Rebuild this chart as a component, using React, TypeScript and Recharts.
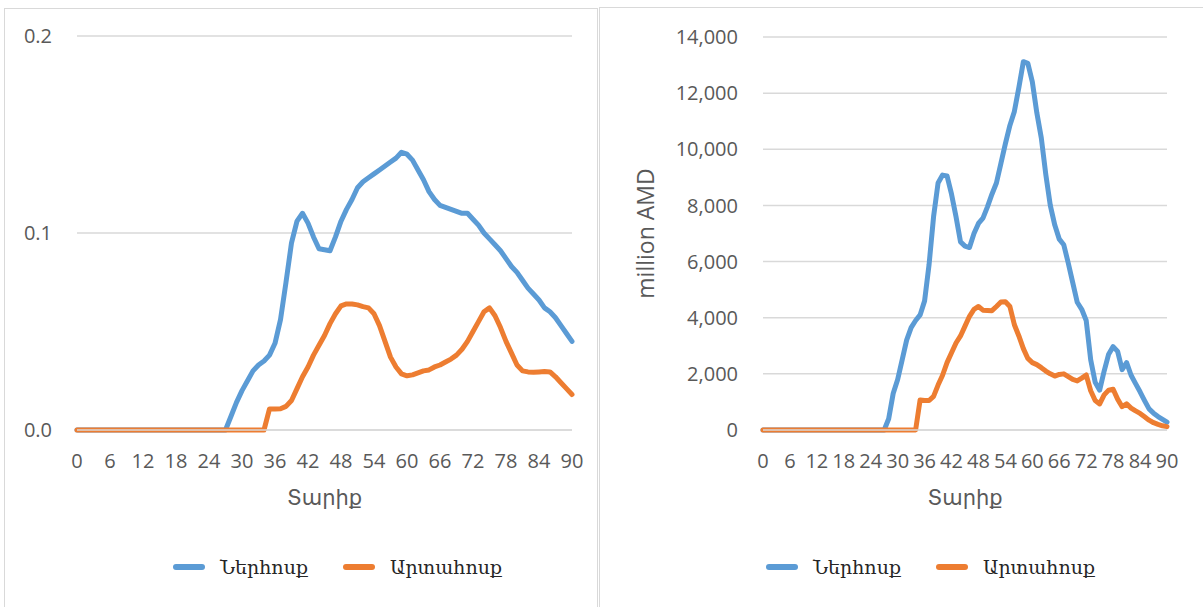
import { LineChart, Line, XAxis, YAxis, CartesianGrid, Legend } from "recharts";

// ages: 0, then every year from 27 to 90 (everything before 27 is zero)
const ages = [
  0,
  27, 28, 29,
  30, 31, 32, 33, 34, 35, 36, 37, 38, 39,
  40, 41, 42, 43, 44, 45, 46, 47, 48, 49,
  50, 51, 52, 53, 54, 55, 56, 57, 58, 59,
  60, 61, 62, 63, 64, 65, 66, 67, 68, 69,
  70, 71, 72, 73, 74, 75, 76, 77, 78, 79,
  80, 81, 82, 83, 84, 85, 86, 87, 88, 89,
  90,
];

// left panel: share
const shareInflow = [
  0,
  0, 0.007, 0.014,
  0.02, 0.025, 0.03, 0.033, 0.035, 0.038, 0.044, 0.056, 0.075, 0.095,
  0.106, 0.11, 0.105, 0.098, 0.092, 0.0915, 0.091, 0.098, 0.106, 0.112,
  0.117, 0.123, 0.126, 0.128, 0.13, 0.132, 0.134, 0.136, 0.138, 0.141,
  0.14, 0.137, 0.132, 0.127, 0.121, 0.117, 0.114, 0.113, 0.112, 0.111,
  0.11, 0.11, 0.107, 0.104, 0.1, 0.097, 0.094, 0.091, 0.087, 0.083,
  0.08, 0.076, 0.072, 0.069, 0.066, 0.062, 0.06, 0.057, 0.053, 0.049,
  0.045,
];
const shareOutflow = [
  0,
  0, 0, 0,
  0, 0, 0, 0, 0, 0.0107, 0.0107, 0.0108, 0.012, 0.015,
  0.021, 0.027, 0.032, 0.038, 0.043, 0.048, 0.054, 0.059, 0.063, 0.064,
  0.064, 0.0635, 0.0626, 0.062, 0.059, 0.053, 0.045, 0.037, 0.032, 0.0285,
  0.0275, 0.028, 0.029, 0.03, 0.0305, 0.032, 0.033, 0.0345, 0.036, 0.038,
  0.041, 0.045, 0.05, 0.055, 0.06, 0.062, 0.058, 0.052, 0.045, 0.039,
  0.033, 0.03, 0.0295, 0.0293, 0.0295, 0.0297, 0.0295, 0.027, 0.024, 0.021,
  0.018,
];

// right panel: million AMD
const amdInflow = [
  0,
  0, 400, 1300,
  1800, 2500, 3200, 3650, 3900, 4100, 4600, 5900, 7600, 8800,
  9080, 9050, 8400, 7600, 6700, 6550, 6500, 7000, 7360, 7550,
  7950, 8400, 8800, 9500, 10200, 10850, 11350, 12200, 13120, 13060,
  12400, 11300, 10400, 9100, 8000, 7300, 6800, 6600, 5950, 5250,
  4550, 4300, 3900, 2500, 1700, 1420, 2100, 2700, 2970, 2800,
  2150, 2400, 1950, 1650, 1360, 1050, 750, 600, 480, 380,
  280,
];
const amdOutflow = [
  0,
  0, 0, 0,
  0, 0, 0, 0, 0, 1070, 1050, 1050, 1200, 1600,
  1950, 2400, 2750, 3100, 3350, 3700, 4050, 4300, 4400, 4270,
  4260, 4250, 4400, 4560, 4570, 4400, 3750, 3350, 2900, 2550,
  2400, 2330, 2220, 2100, 2000, 1920, 1980, 2000, 1900, 1800,
  1750, 1850, 1960, 1400, 1050, 930, 1250, 1420, 1450, 1100,
  830, 930, 780, 680, 590, 470, 350, 260, 200, 150,
  120,
];

const ageTicks = [0, 6, 12, 18, 24, 30, 36, 42, 48, 54, 60, 66, 72, 78, 84, 90];
const shareTicks = [0, 0.1, 0.2];
const amdTicks = [0, 2000, 4000, 6000, 8000, 10000, 12000, 14000];

const inflowName = "Ներհոսք";
const outflowName = "Արտահոսք";
const xTitle = "Տարիք";
const amdTitle = "million AMD";

const BLUE = "#5b9bd5";
const ORANGE = "#ed7d31";
const GRID = "#d9d9d9";
const GRAY = "#595959";

const tickStyle = { fill: GRAY, fontSize: 20, fontFamily: "'Open Sans', sans-serif" };
const seriesOrder = ["inflow", "outflow"];

const shareData = ages.map((age, i) => ({ age, inflow: shareInflow[i], outflow: shareOutflow[i] }));
const amdData = ages.map((age, i) => ({ age, inflow: amdInflow[i], outflow: amdOutflow[i] }));

function SeriesLegend(props: any) {
  const items = [...(props.payload || [])].sort(
    (a: any, b: any) => seriesOrder.indexOf(a.dataKey) - seriesOrder.indexOf(b.dataKey)
  );
  return (
    <div style={{ display: "flex", alignItems: "center", fontFamily: "'DejaVu Serif', serif", fontSize: 19, color: "#262626" }}>
      {items.map((it: any, i: number) => (
        <div key={i} style={{ display: "flex", alignItems: "center", marginRight: i === 0 ? 35 : 0 }}>
          <span style={{ display: "inline-block", width: 32, height: 6, borderRadius: 3, background: it.color, marginRight: 15 }} />
          <span>{it.value}</span>
        </div>
      ))}
    </div>
  );
}

type PanelProps = {
  data: any[];
  width: number;
  top: number;
  right: number;
  yWidth: number;
  yMax: number;
  yTicks: number[];
  yFormat: (v: number) => string;
  yTitle?: string;
  legendLeft: number;
};

function Panel({ data, width, top, right, yWidth, yMax, yTicks, yFormat, yTitle, legendLeft }: PanelProps) {
  const height = 607;
  return (
    <LineChart width={width} height={height} data={data} margin={{ top, right, bottom: 0, left: 0 }}>
      <CartesianGrid vertical={false} stroke={GRID} strokeWidth={1.5} />
      <XAxis
        dataKey="age"
        type="number"
        domain={[0, 90]}
        ticks={ageTicks}
        interval={0}
        height={height - 430}
        tickLine={false}
        tickSize={0}
        tickMargin={24}
        axisLine={{ stroke: GRID, strokeWidth: 1.5 }}
        tick={tickStyle}
        label={{ value: xTitle, position: "insideTop", offset: 60, fill: GRAY, fontSize: 21, fontFamily: "'DejaVu Sans', sans-serif" }}
      />
      <YAxis
        type="number"
        domain={[0, yMax]}
        ticks={yTicks}
        interval={0}
        width={yWidth}
        tickLine={false}
        tickSize={0}
        tickMargin={25}
        axisLine={false}
        tick={tickStyle}
        tickFormatter={yFormat}
        label={
          yTitle
            ? { value: yTitle, angle: -90, position: "insideLeft", offset: 48, fill: GRAY, fontSize: 23, fontFamily: "'Open Sans', sans-serif", style: { textAnchor: "middle" } }
            : undefined
        }
      />
      <Line type="linear" dataKey="inflow" name={inflowName} stroke={BLUE} strokeWidth={5} strokeLinecap="round" strokeLinejoin="round" dot={false} isAnimationActive={false} />
      <Line type="linear" dataKey="outflow" name={outflowName} stroke={ORANGE} strokeWidth={5} strokeLinecap="round" strokeLinejoin="round" dot={false} isAnimationActive={false} />
      <Legend
        layout="horizontal"
        verticalAlign="middle"
        align="center"
        content={<SeriesLegend />}
        wrapperStyle={{ left: legendLeft, top: 556, width: "auto" }}
      />
    </LineChart>
  );
}

export default function App() {
  return (
    <div style={{ position: "absolute", left: 0, top: 0, width: 1203, height: 607, background: "#fff", overflow: "hidden" }}>
      <div style={{ position: "absolute", left: 4, top: 8, width: 592, height: 620, border: `1.5px solid ${GRID}` }} />
      <div style={{ position: "absolute", left: 599, top: 7, width: 620, height: 620, border: `1.5px solid ${GRID}` }} />
      <div style={{ position: "absolute", left: 0, top: 0 }}>
        <Panel
          data={shareData}
          width={600}
          top={36}
          right={28}
          yWidth={77}
          yMax={0.2}
          yTicks={shareTicks}
          yFormat={(v) => v.toFixed(1)}
          legendLeft={173}
        />
      </div>
      <div style={{ position: "absolute", left: 598, top: 0 }}>
        <Panel
          data={amdData}
          width={605}
          top={37}
          right={36}
          yWidth={165}
          yMax={14000}
          yTicks={amdTicks}
          yFormat={(v) => v.toLocaleString("en-US")}
          yTitle={amdTitle}
          legendLeft={168}
        />
      </div>
    </div>
  );
}
